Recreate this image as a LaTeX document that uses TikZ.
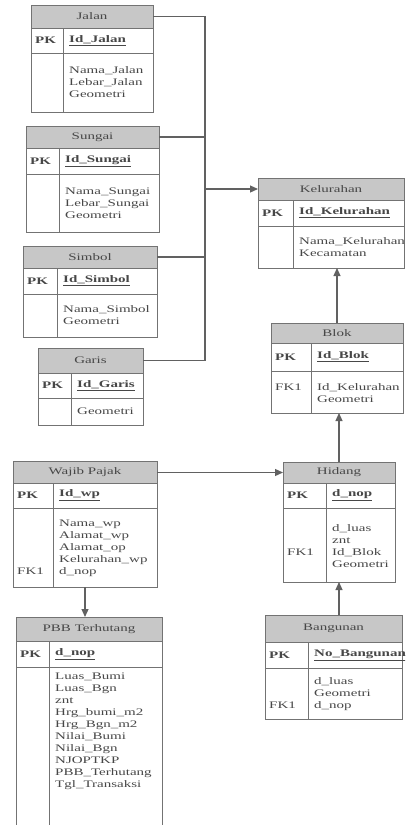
\documentclass[tikz,border=0pt]{standalone}
\usepackage{fontspec}
\setmainfont{Liberation Serif}[FakeStretch=1.5]
\usetikzlibrary{arrows.meta}
\colorlet{head colour}{black!22}
\colorlet{frame colour}{black!55}
\colorlet{text colour}{black!72}
\colorlet{link colour}{black!62}
\newcommand{\erfont}{\fontsize{10}{12}\selectfont}
\tikzset{
    % Outlines of the tables
    er frame/.style={draw=frame colour, line width=1pt},
    er head/.style={
        er frame, fill=head colour, anchor=north west,
        inner sep=0pt, outer sep=0pt, text=text colour, font=\erfont},
    er body/.style={
        er frame, fill=white, anchor=north west, inner sep=0pt, outer sep=0pt},
%
    % Text in the rows
    er field/.style={inner sep=0pt, text=text colour, font=\erfont, align=left},
    er pk/.style={er field, anchor=west, font=\erfont\bfseries},
    er key/.style={er field, anchor=west, font=\erfont\bfseries},
    er attr/.style={er field, anchor=west},
    er fk/.style={er field, anchor=north west},
%
    % Connectors
    er link/.style={draw=link colour, line width=1.2pt},
    er ref/.style={er link, -{Triangle[length=8pt, width=7pt]}},
}
% name, left, right, top, head bottom, pk bottom, bottom, divider, title
\newcommand{\ertable}[9]{%
    \node[er head, minimum width={(#3-#2)*1pt}, minimum height={(#5-#4)*1pt}]
        (#1) at (#2,#4) {#9};
    \node[er body, minimum width={(#3-#2)*1pt}, minimum height={(#7-#5)*1pt}]
        (#1 body) at (#2,#5) {};
    \draw[er frame] (#2,#6) -- (#3,#6) (#8,#5) -- (#8,#7);
    \node[er pk] (#1 pk) at (#2+4,{(#5+#6)/2}) {PK};
    \coordinate (#1 key) at (#8+6,{(#5+#6)/2});
    \coordinate (#1 attr) at (#8+6,{(#6+#7)/2});
}

\begin{document}
\begin{tikzpicture}[x=1pt, y=-1pt]

\useasboundingbox (0,0) rectangle (405,825);
\clip (0,0) rectangle (405,825);

% Map layers on the left
\ertable{jalan}{31}{153}{5}{28}{53}{112}{63}{Jalan}
\node[er key] (jalan id) at (jalan key) {\underline{Id\_Jalan}};
\node[er attr] (jalan fields) at (jalan attr) {Nama\_Jalan\\Lebar\_Jalan\\Geometri};

\ertable{sungai}{26}{159}{126}{148}{174}{232}{59}{Sungai}
\node[er key] (sungai id) at (sungai key) {\underline{Id\_Sungai}};
\node[er attr] (sungai fields) at (sungai attr) {Nama\_Sungai\\Lebar\_Sungai\\Geometri};

\ertable{simbol}{23}{157}{246}{268}{294}{337}{57}{Simbol}
\node[er key] (simbol id) at (simbol key) {\underline{Id\_Simbol}};
\node[er attr] (simbol fields) at (simbol attr) {Nama\_Simbol\\Geometri};

\ertable{garis}{38}{143}{348}{373}{398}{425}{71}{Garis}
\node[er key] (garis id) at (garis key) {\underline{Id\_Garis}};
\node[er attr] (garis fields) at (garis attr) {Geometri};

% Area chain on the right
\ertable{kelurahan}{258}{404}{178}{200}{226}{268}{293}{Kelurahan}
\node[er key] (kelurahan id) at (kelurahan key) {\underline{Id\_Kelurahan}};
\node[er attr] (kelurahan fields) at (kelurahan attr) {Nama\_Kelurahan\\Kecamatan};

\ertable{blok}{271}{403}{323}{343}{371}{413}{311}{Blok}
\node[er key] (blok id) at (blok key) {\underline{Id\_Blok}};
\node[er attr] (blok fields) at (blok attr) {\strut Id\_Kelurahan\\Geometri};
\node[er fk] (blok fk) at (blok pk.west |- blok fields.north) {\strut FK1};

\ertable{hidang}{283}{395}{462}{483}{508}{582}{326}{Hidang}
\node[er key] (hidang id) at (hidang key) {\underline{d\_nop}};
\node[er attr] (hidang fields) at (hidang attr) {\strut d\_luas\\znt\\Id\_Blok\\Geometri};
\node[er fk] (hidang fk) at (hidang pk.west |- hidang fields.north)
    {\strut\\\strut\\\strut FK1};

\ertable{bangunan}{265}{402}{615}{642}{668}{719}{308}{Bangunan}
\node[er key] (bangunan id) at (bangunan key) {\underline{No\_Bangunan}};
\node[er attr] (bangunan fields) at (bangunan attr) {\strut d\_luas\\Geometri\\d\_nop};
\node[er fk] (bangunan fk) at (bangunan pk.west |- bangunan fields.north)
    {\strut\\\strut\\\strut FK1};

% Tax tables
\ertable{wp}{13}{157}{461}{483}{508}{587}{53}{Wajib Pajak}
\node[er key] (wp id) at (wp key) {\underline{Id\_wp}};
\node[er attr] (wp fields) at (wp attr)
    {\strut Nama\_wp\\Alamat\_wp\\Alamat\_op\\Kelurahan\_wp\\d\_nop};
\node[er fk] (wp fk) at (wp pk.west |- wp fields.north)
    {\strut\\\strut\\\strut\\\strut\\\strut FK1};

\ertable{pbb}{16}{162}{617}{641}{667}{830}{49}{PBB Terhutang}
\node[er key] (pbb id) at (pbb key) {\underline{d\_nop}};
\node[er fk] (pbb fields) at (pbb key |- 0,673)
    {Luas\_Bumi\\Luas\_Bgn\\znt\\Hrg\_bumi\_m2\\Hrg\_Bgn\_m2\\Nilai\_Bumi\\
     Nilai\_Bgn\\NJOPTKP\\PBB\_Terhutang\\Tgl\_Transaksi};

% Connectors
\coordinate (bus) at (205,0);
\draw[er link] (jalan.east) -- (jalan.east -| bus) -- (garis.east -| bus) -- (garis.east);
\draw[er link] (sungai.east) -- (sungai.east -| bus);
\draw[er link] (simbol.east) -- (simbol.east -| bus);
\draw[er ref] (kelurahan.west -| bus) -- (kelurahan.west);
\draw[er ref] (blok.north) -- (blok.north |- kelurahan body.south);
\draw[er ref] (hidang.north) -- (hidang.north |- blok body.south);
\draw[er ref] (hidang body.south |- bangunan.north) -- (hidang body.south);
\draw[er ref] (wp.east |- hidang.west) -- (hidang.west);
\draw[er ref] (wp body.south) -- (wp body.south |- pbb.north);

\end{tikzpicture}
\end{document}
